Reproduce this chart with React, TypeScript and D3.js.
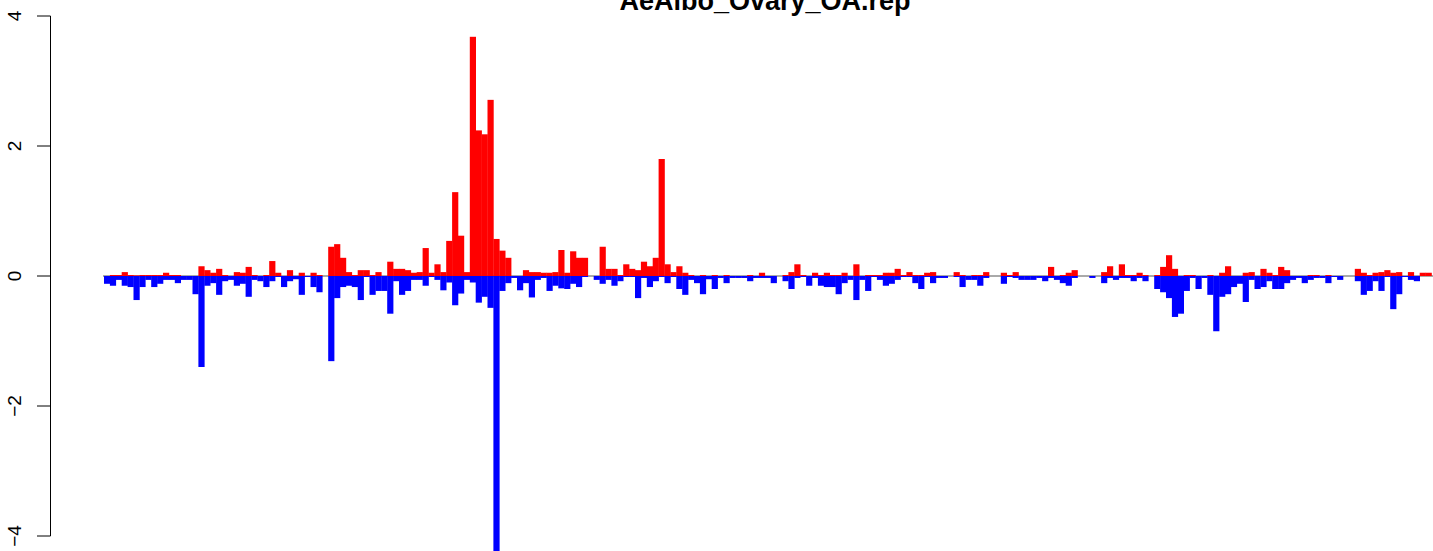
import React from "react";
import * as d3 from "d3";

const title = "AeAlbo_Ovary_OA.rep";
const yTicks = [-4, -2, 0, 2, 4];

const upValues = [
  0, 0.015, 0.015, 0.06, 0.015, 0.01, 0.015, 0.015, 0.015, 0.015,
  0.05, 0.015, 0.015, 0, 0, 0, 0.15, 0.09, 0.05, 0.11,
  0.015, 0, 0.06, 0.05, 0.14, 0.015, 0, 0.015, 0.23, 0.05,
  0, 0.09, 0, 0.05, 0, 0.05, 0.015, 0, 0.45, 0.49,
  0.28, 0.06, 0.015, 0.09, 0.09, 0.015, 0.06, 0, 0.22, 0.11,
  0.11, 0.09, 0.05, 0.06, 0.43, 0.05, 0.18, 0.06, 0.54, 1.29,
  0.62, 0.06, 3.68, 2.24, 2.18, 2.71, 0.57, 0.39, 0.28, 0,
  0, 0.09, 0.06, 0.06, 0.05, 0.05, 0.06, 0.40, 0.05, 0.38,
  0.28, 0.28, 0, 0, 0.45, 0.11, 0.11, 0.015, 0.18, 0.11,
  0.09, 0.22, 0.15, 0.28, 1.80, 0.18, 0.06, 0.15, 0.05, 0.015,
  0, 0.015, 0, 0.015, 0, 0.015, 0, 0, 0, 0.015,
  0, 0.05, 0, 0, 0, 0.015, 0.06, 0.18, 0.015, 0,
  0.05, 0.015, 0.05, 0.015, 0.015, 0.05, 0, 0.18, 0, 0.015,
  0.015, 0.015, 0.05, 0.05, 0.11, 0.015, 0.06, 0.015, 0.015, 0.05,
  0.06, 0, 0, 0, 0.06, 0.015, 0, 0.015, 0.015, 0.06,
  0, 0, 0.05, 0.015, 0.06, 0, 0, 0, 0, 0,
  0.14, 0, 0.015, 0.05, 0.09, 0, 0, 0, 0, 0.06,
  0.15, 0, 0.18, 0.015, 0.015, 0.05, 0.015, 0, 0.015, 0.14,
  0.32, 0.11, 0, 0.015, 0.015, 0, 0, 0.015, 0, 0.05,
  0.15, 0, 0, 0.05, 0.06, 0, 0.11, 0.05, 0.015, 0.14,
  0.09, 0, 0, 0, 0.015, 0.015, 0, 0.015, 0, 0,
  0, 0, 0.11, 0.05, 0.015, 0.05, 0.06, 0.09, 0.05, 0.06,
  0, 0.06, 0, 0.05, 0.05,
];

const downValues = [
  -0.12, -0.15, -0.06, -0.15, -0.17, -0.37, -0.17, -0.06, -0.17, -0.12,
  -0.06, -0.06, -0.11, -0.06, -0.06, -0.28, -1.40, -0.15, -0.11, -0.29,
  -0.08, -0.06, -0.15, -0.12, -0.32, -0.06, -0.08, -0.17, -0.08, -0.015,
  -0.17, -0.08, -0.05, -0.29, -0.015, -0.17, -0.25, 0, -1.31, -0.34,
  -0.17, -0.15, -0.17, -0.37, -0.015, -0.29, -0.23, -0.23, -0.58, -0.08,
  -0.29, -0.23, -0.06, -0.06, -0.15, -0.015, -0.06, -0.22, -0.10, -0.45,
  -0.27, -0.06, -0.10, -0.41, -0.32, -0.49, -4.3, -0.23, -0.11, -0.03,
  -0.22, -0.11, -0.33, -0.06, -0.03, -0.23, -0.15, -0.19, -0.20, -0.12,
  -0.17, -0.015, 0, -0.06, -0.12, -0.06, -0.15, -0.08, -0.015, -0.015,
  -0.34, -0.03, -0.17, -0.08, -0.015, -0.11, -0.015, -0.20, -0.29, -0.06,
  -0.11, -0.28, -0.05, -0.20, -0.03, -0.11, -0.03, -0.03, -0.03, -0.08,
  -0.03, -0.03, -0.03, -0.11, 0, -0.08, -0.20, -0.03, -0.015, -0.15,
  -0.03, -0.15, -0.17, -0.17, -0.28, -0.11, -0.06, -0.37, -0.06, -0.23,
  -0.015, -0.06, -0.15, -0.12, -0.06, -0.015, -0.015, -0.11, -0.20, -0.015,
  -0.11, -0.03, -0.03, 0, -0.015, -0.17, -0.06, -0.06, -0.15, -0.03,
  0, 0, -0.12, -0.015, -0.03, -0.06, -0.06, -0.06, -0.03, -0.08,
  -0.03, -0.06, -0.11, -0.15, -0.03, 0, 0, -0.03, 0, -0.11,
  -0.03, -0.06, -0.03, -0.03, -0.08, -0.03, -0.08, 0, -0.20, -0.25,
  -0.34, -0.63, -0.58, -0.23, -0.03, -0.20, -0.03, -0.29, -0.85, -0.32,
  -0.28, -0.17, -0.12, -0.40, -0.06, -0.20, -0.17, -0.08, -0.20, -0.20,
  -0.11, -0.06, -0.03, -0.11, -0.06, -0.03, -0.03, -0.11, -0.015, -0.06,
  0, 0, -0.08, -0.29, -0.23, -0.08, -0.23, -0.015, -0.51, -0.28,
  -0.015, -0.06, -0.08, 0, 0,
];

const W = 1433;
const H = 551;
const BAR_W = 5.9;
const X0 = 104;
const FONT = "'Liberation Sans', Arial, Helvetica, sans-serif";

export default function App() {
  const n = upValues.length;
  const idx = d3.range(n);
  const x = d3
    .scaleBand<number>()
    .domain(idx)
    .range([X0, X0 + BAR_W * n])
    .padding(0);
  const y = d3.scaleLinear().domain([-4, 4]).range([536, 16]);
  const y0 = y(0);
  const axisX = 50.5;

  return (
    <div style={{ position: "absolute", left: 0, top: 0 }}>
      <svg width={W} height={H} style={{ display: "block", background: "#fff" }}>
        <line x1={103} x2={W} y1={y0} y2={y0} stroke="#555" strokeWidth={1} />
        {idx.map((i) =>
          downValues[i] < 0 ? (
            <rect
              key={"d" + i}
              x={x(i)}
              y={y0}
              width={x.bandwidth() + 0.3}
              height={y(downValues[i]) - y0}
              fill="#0000ff"
            />
          ) : null
        )}
        {idx.map((i) =>
          upValues[i] > 0 ? (
            <rect
              key={"u" + i}
              x={x(i)}
              y={y(upValues[i])}
              width={x.bandwidth() + 0.3}
              height={y0 - y(upValues[i])}
              fill="#ff0000"
            />
          ) : null
        )}
        <line x1={axisX} x2={axisX} y1={y(4)} y2={y(-4)} stroke="#000" strokeWidth={1} />
        {yTicks.map((t) => (
          <g key={t}>
            <line x1={37} x2={axisX} y1={y(t)} y2={y(t)} stroke="#000" strokeWidth={1} />
            <text
              transform={`translate(21,${y(t)}) rotate(-90)`}
              textAnchor="middle"
              fontFamily={FONT}
              fontSize={19}
              fill="#000"
            >
              {t < 0 ? "\u2212" + Math.abs(t) : String(t)}
            </text>
          </g>
        ))}
        <text
          x={765}
          y={9.5}
          textAnchor="middle"
          fontFamily={FONT}
          fontWeight="bold"
          fontSize={27}
          fill="#000"
        >
          {title}
        </text>
      </svg>
    </div>
  );
}
